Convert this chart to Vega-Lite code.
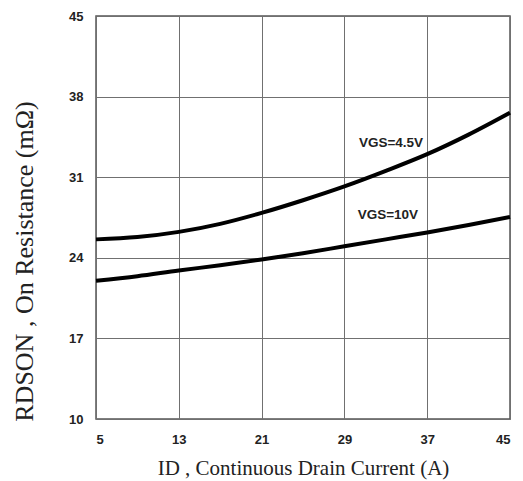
{
  "$schema": "https://vega.github.io/schema/vega-lite/v6.json",
  "width": 414,
  "height": 403,
  "autosize": {"type": "none"},
  "padding": {"left": 96, "top": 16, "right": 13, "bottom": 62},
  "background": "white",
  "config": {"view": {"stroke": "#555555", "strokeWidth": 1.5}},
  "datasets": {
    "curves": [
      {"id": 5, "r": 25.6, "series": "VGS=4.5V"},
      {"id": 9, "r": 25.8, "series": "VGS=4.5V"},
      {"id": 13, "r": 26.25, "series": "VGS=4.5V"},
      {"id": 17, "r": 26.95, "series": "VGS=4.5V"},
      {"id": 21, "r": 27.9, "series": "VGS=4.5V"},
      {"id": 25, "r": 29.0, "series": "VGS=4.5V"},
      {"id": 29, "r": 30.2, "series": "VGS=4.5V"},
      {"id": 33, "r": 31.55, "series": "VGS=4.5V"},
      {"id": 37, "r": 33.0, "series": "VGS=4.5V"},
      {"id": 41, "r": 34.7, "series": "VGS=4.5V"},
      {"id": 45, "r": 36.6, "series": "VGS=4.5V"},
      {"id": 5, "r": 22.0, "series": "VGS=10V"},
      {"id": 9, "r": 22.4, "series": "VGS=10V"},
      {"id": 13, "r": 22.9, "series": "VGS=10V"},
      {"id": 17, "r": 23.35, "series": "VGS=10V"},
      {"id": 21, "r": 23.85, "series": "VGS=10V"},
      {"id": 25, "r": 24.4, "series": "VGS=10V"},
      {"id": 29, "r": 25.0, "series": "VGS=10V"},
      {"id": 33, "r": 25.6, "series": "VGS=10V"},
      {"id": 37, "r": 26.2, "series": "VGS=10V"},
      {"id": 41, "r": 26.85, "series": "VGS=10V"},
      {"id": 45, "r": 27.55, "series": "VGS=10V"}
    ],
    "labels": [
      {"id": 33.5, "r": 34.0, "text": "VGS=4.5V"},
      {"id": 33.2, "r": 27.7, "text": "VGS=10V"}
    ]
  },
  "layer": [
    {
      "data": {"name": "curves"},
      "mark": {"type": "line", "interpolate": "monotone", "color": "black", "strokeWidth": 4},
      "encoding": {
        "x": {
          "field": "id", "type": "quantitative",
          "scale": {"domain": [5, 45], "nice": false, "zero": false},
          "axis": {
            "values": [5, 13, 21, 29, 37, 45],
            "title": "ID , Continuous Drain Current (A)",
            "titleFont": "Liberation Serif", "titleFontSize": 21, "titleFontWeight": "normal", "titleColor": "#222222",
            "titleBaseline": "middle", "titleY": 49,
            "labelFont": "Liberation Sans", "labelFontSize": 13, "labelFontWeight": "bold", "labelColor": "#222222",
            "labelPadding": 14,
            "ticks": false, "domain": false,
            "grid": true, "gridColor": "#707070", "gridWidth": 1
          }
        },
        "y": {
          "field": "r", "type": "quantitative",
          "scale": {"domain": [10, 45], "nice": false, "zero": false},
          "axis": {
            "values": [10, 17, 24, 31, 38, 45],
            "title": "RDSON , On Resistance (mΩ)",
            "titleFont": "Liberation Serif", "titleFontSize": 26, "titleFontWeight": "normal", "titleColor": "#222222",
            "titleBaseline": "middle", "titleAlign": "center", "titleAngle": -90,
            "titleX": -72, "titleY": 245,
            "labelFont": "Liberation Sans", "labelFontSize": 13, "labelFontWeight": "bold", "labelColor": "#222222",
            "labelPadding": 13,
            "ticks": false, "domain": false,
            "grid": true, "gridColor": "#707070", "gridWidth": 1
          }
        },
        "detail": {"field": "series"}
      }
    },
    {
      "data": {"name": "labels"},
      "mark": {"type": "text", "font": "Liberation Sans", "fontWeight": "bold", "fontSize": 13.5, "color": "#222222"},
      "encoding": {
        "x": {"field": "id", "type": "quantitative"},
        "y": {"field": "r", "type": "quantitative"},
        "text": {"field": "text"}
      }
    }
  ]
}
